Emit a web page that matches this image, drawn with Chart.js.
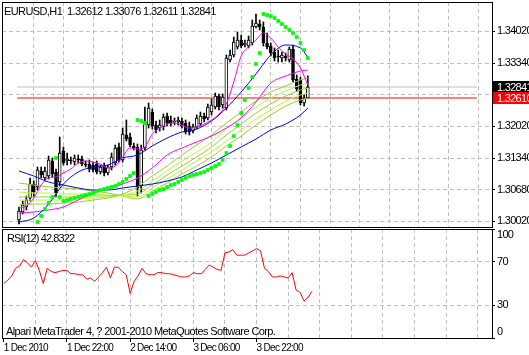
<!DOCTYPE html>
<html><head><meta charset="utf-8">
<script src="https://cdn.jsdelivr.net/npm/chart.js@4.4.1/dist/chart.umd.min.js"></script>
<style>
html,body{margin:0;padding:0;background:#fff;}
#wrap{position:relative;width:529px;height:355px;overflow:hidden;background:#fff;}
canvas{position:absolute;left:0;}
#c1{top:0;} #c2{top:228px;}
.t{position:absolute;font-family:"Liberation Sans",Arial,sans-serif;font-size:11px;color:#000;white-space:pre;line-height:11px;letter-spacing:-0.6px;}
</style></head><body>
<div id="wrap">
<canvas id="c1" width="529" height="228"></canvas>
<canvas id="c2" width="529" height="127"></canvas>
<div class="t" id="title" style="left:4px;top:6px"></div>
<div class="t" id="rsiTitle" style="left:7px;top:233px;letter-spacing:-0.9px"></div>
<div class="t" id="copy" style="left:6px;top:326px">Alpari MetaTrader 4, ? 2001-2010 MetaQuotes Software Corp.</div>
</div>
<script>
const FONT = '"Liberation Sans",Arial,sans-serif';
const LSP = '-0.7px';
const symbol = 'EURUSD', period = 'H1', rsiPeriod = 12;
const timeLabels = ['1 Dec 2010','1 Dec 22:00','2 Dec 14:00','3 Dec 06:00','3 Dec 22:00'];
const timeLabelBars = [0,16,32,48,64];
const gridBars = [0,8,16,24,32,40,48,56,64,72,80,88,96,104,112,120];
const priceTicks = [1.34020,1.33340,1.32680,1.32020,1.31340,1.30680,1.30020];
const rsiTicks = [0,30,70,100];
const rsiLevels = [30,70];
const bidPrice = 1.32841;
const hLinePrice = 1.32610;
const priceMin = 1.29894, priceMax = 1.34631;
const xMin = -0.45, xMax = 123.6;

const openP = [1.30041,1.30210,1.30315,1.30505,1.30799,1.30736,1.31073,1.30926,1.30968,1.31284,
1.31052,1.30841,1.31494,1.31284,1.31305,1.31262,1.31326,1.31326,1.31220,1.31220,
1.31199,1.31220,1.31052,1.31178,1.31031,1.31157,1.31241,1.31578,1.31305,1.31831,
1.31789,1.31599,1.31578,1.30757,1.31557,1.32041,1.32315,1.32041,1.31978,1.31999,
1.32231,1.32147,1.32105,1.32105,1.32126,1.32083,1.32020,1.31915,1.31999,1.32062,
1.32231,1.32189,1.32315,1.32420,1.32652,1.32462,1.32399,1.33410,1.33515,1.33684,
1.33831,1.33726,1.33705,1.33768,1.34105,1.34168,1.34105,1.33768,1.33705,1.33578,
1.33494,1.33452,1.33494,1.33410,1.33641,1.33010,1.32989,1.32505,1.32612];
const highP = [1.30315,1.30441,1.30547,1.30926,1.30862,1.31157,1.31157,1.31157,1.31389,1.31347,
1.31115,1.31789,1.31578,1.31452,1.31368,1.31410,1.31410,1.31389,1.31284,1.31305,
1.31262,1.31284,1.31199,1.31241,1.31199,1.31452,1.31620,1.31662,1.31978,1.32147,
1.31873,1.31662,1.31641,1.31620,1.32420,1.32505,1.32378,1.32126,1.32147,1.32273,
1.32294,1.32231,1.32189,1.32210,1.32189,1.32147,1.32105,1.32062,1.32252,1.32315,
1.32294,1.32484,1.32589,1.32715,1.32694,1.32694,1.33515,1.33620,1.33894,1.33999,
1.33936,1.33831,1.33915,1.34252,1.34378,1.34252,1.34210,1.33978,1.33768,1.33663,
1.33620,1.33578,1.33557,1.33684,1.33726,1.33094,1.33052,1.32673,1.33076];
const lowP = [1.29957,1.30168,1.30252,1.30441,1.30526,1.30673,1.30926,1.30862,1.30905,1.30947,
1.30526,1.30757,1.31199,1.31199,1.31220,1.31199,1.31241,1.31178,1.31157,1.31052,
1.31052,1.31010,1.31010,1.30968,1.30989,1.31094,1.31199,1.31262,1.31262,1.31704,
1.31578,1.31515,1.30547,1.30610,1.31515,1.31978,1.31957,1.31873,1.31915,1.31936,
1.32020,1.32020,1.32041,1.32041,1.31978,1.31852,1.31831,1.31873,1.31957,1.32020,
1.32105,1.32147,1.32252,1.32378,1.32357,1.32399,1.32357,1.33368,1.33473,1.33641,
1.33663,1.33684,1.33663,1.33726,1.34084,1.34041,1.33705,1.33641,1.33494,1.33389,
1.33368,1.33368,1.33389,1.33368,1.32947,1.32757,1.32462,1.32441,1.32611];
const closeP = [1.30231,1.30357,1.30462,1.30799,1.30631,1.31094,1.30989,1.31073,1.31305,1.31010,
1.30589,1.31452,1.31241,1.31326,1.31284,1.31347,1.31305,1.31220,1.31199,1.31115,
1.31094,1.31052,1.31157,1.31031,1.31157,1.31368,1.31557,1.31305,1.31852,1.31746,
1.31620,1.31557,1.30715,1.31515,1.32105,1.32399,1.32020,1.31936,1.32041,1.32210,
1.32083,1.32083,1.32126,1.32147,1.32020,1.31894,1.31894,1.31999,1.32189,1.32231,
1.32168,1.32420,1.32462,1.32652,1.32420,1.32631,1.33452,1.33515,1.33789,1.33831,
1.33705,1.33768,1.33831,1.34126,1.34189,1.34105,1.33768,1.33684,1.33557,1.33452,
1.33473,1.33515,1.33452,1.33641,1.32989,1.32799,1.32505,1.32610,1.32841];

const fastSampleBars = [0,2,4,6,8,10,12,14,16,18,20,22,24,26,28,30,32,34,36,38,40,42,44,46,48,50,52,54,56,58,60,62,64,66,68,70,72,74,76,78];
const maFast = [1.30294,1.30336,1.30505,1.30778,1.30926,1.30947,1.31031,1.31115,1.31241,1.31284,
1.31262,1.31220,1.31136,1.31178,1.31368,1.31557,1.31536,1.31578,1.31852,1.31978,
1.32062,1.32083,1.32041,1.31978,1.31999,1.32062,1.32147,1.32273,1.32484,1.32947,
1.33494,1.33684,1.33831,1.33978,1.33873,1.33684,1.33536,1.33431,1.33241,1.32883];

const maSampleBars = [0,4,8,12,16,20,24,28,32,36,40,44,48,52,56,60,64,68,72,76,78];
const maBlueFast = [1.29999,1.30083,1.30378,1.30799,1.31052,1.31157,1.31199,1.31347,1.31410,1.31599,
1.31767,1.31894,1.31957,1.32126,1.32399,1.32736,1.33115,1.33515,1.33726,1.33663,1.33473];
const maBlueSlow = [1.31073,1.30968,1.30841,1.30778,1.30715,1.30673,1.30673,1.30715,1.30757,1.30799,
1.30862,1.30947,1.31094,1.31241,1.31410,1.31578,1.31746,1.31936,1.32062,1.32252,1.32399];
const maMagentaSlow = [1.30188,1.30210,1.30252,1.30315,1.30462,1.30610,1.30715,1.30799,1.30926,1.31136,
1.31410,1.31557,1.31683,1.31809,1.31978,1.32189,1.32525,1.32925,1.33073,1.33178,1.33199];
const maGreen1 = [1.30357,1.30378,1.30378,1.30399,1.30420,1.30462,1.30505,1.30589,1.30736,1.30968,
1.31178,1.31410,1.31620,1.31831,1.32083,1.32315,1.32546,1.32736,1.32862,1.32989,1.33031];
const maGreen2 = [1.30462,1.30462,1.30462,1.30462,1.30483,1.30505,1.30526,1.30567,1.30652,1.30862,
1.31073,1.31284,1.31473,1.31683,1.31957,1.32189,1.32420,1.32610,1.32757,1.32883,1.32925];
const maGreen3 = [1.30526,1.30526,1.30526,1.30526,1.30526,1.30547,1.30547,1.30567,1.30589,1.30778,
1.30989,1.31178,1.31368,1.31578,1.31831,1.32062,1.32294,1.32484,1.32652,1.32778,1.32820];
const maGreen4 = [1.30631,1.30610,1.30610,1.30589,1.30589,1.30589,1.30567,1.30547,1.30526,1.30715,
1.30905,1.31094,1.31284,1.31473,1.31704,1.31936,1.32168,1.32357,1.32546,1.32673,1.32715];
const maGreen5 = [1.30820,1.30778,1.30736,1.30715,1.30694,1.30652,1.30610,1.30547,1.30483,1.30652,
1.30820,1.31010,1.31178,1.31368,1.31599,1.31809,1.32041,1.32252,1.32441,1.32567,1.32610];

const sar = [null,null,null,null,null,1.29999,1.30125,1.30273,1.30399,1.30526,
1.31347,1.30526,1.30441,1.30462,1.30483,1.30505,1.30526,1.30547,1.30567,1.30589,
1.30610,1.30652,1.30673,1.30694,1.30715,1.30736,1.30757,1.30799,1.30841,1.30905,
1.30968,1.31031,1.32147,1.32126,1.32083,1.30547,1.30589,1.30631,1.30673,1.30694,
1.30736,1.30778,1.30799,1.30841,1.30883,1.30926,1.30968,1.30989,1.31010,1.31031,
1.31052,1.31094,1.31136,1.31178,1.31220,1.31305,1.31452,1.31599,1.31809,1.32041,
1.32294,1.32567,1.32820,1.33052,1.33325,1.33557,1.34378,1.34357,1.34336,1.34294,
1.34231,1.34168,1.34105,1.34041,1.33978,1.33894,1.33768,1.33620,1.33452];

const rsi = [50,53,57,64,66,72,69,65,71,62,
50,64,61,60,61,62,62,59,59,58,
58,54,55,52,56,60,65,55,65,65,
61,58,41,52,57,64,59,58,58,60,
60,59,59,58,57,56,56,57,60,59,
59,63,67,65,63,62,78,79,81,76,
76,76,78,80,82,80,64,61,56,56,
57,56,55,60,44,42,34,37,42.8322];

const n = closeP.length - 1;
const barIdx = closeP.map((_, i) => i);
const pts = (xs, ys) => xs.map((x, k) => ({x: x, y: ys[k]}));

document.getElementById('title').textContent =
  symbol + ',' + period + '  ' + openP[n].toFixed(5) + ' ' + highP[n].toFixed(5) + ' ' + lowP[n].toFixed(5) + ' ' + closeP[n].toFixed(5);
document.getElementById('rsiTitle').textContent = 'RSI(' + rsiPeriod + ') ' + rsi[n].toFixed(4);

Chart.defaults.color = '#000';
Chart.defaults.font.family = FONT;
Chart.defaults.font.size = 11;

const noPad = s => { s.paddingTop = 0; s.paddingBottom = 0; s.paddingLeft = 0; s.paddingRight = 0; };

const spacingPlugin = {
  id: 'spacing',
  beforeInit(chart) { chart.ctx.letterSpacing = LSP; },
  beforeUpdate(chart) { chart.ctx.letterSpacing = LSP; },
  beforeLayout(chart) { chart.ctx.letterSpacing = LSP; },
  beforeDraw(chart) { chart.ctx.letterSpacing = LSP; }
};
const framePlugin = {
  id: 'frame',
  afterDatasetsDraw(chart) {
    const {ctx, chartArea: a} = chart;
    ctx.save();
    ctx.strokeStyle = '#000'; ctx.lineWidth = 1; ctx.setLineDash([]);
    ctx.strokeRect(a.left + 0.5, a.top + 0.5, a.right - a.left, a.bottom - a.top);
    ctx.restore();
  }
};
const boxPlugin = {
  id: 'boxes',
  afterDraw(chart) {
    const {ctx, chartArea: a} = chart;
    const ys = chart.scales.y;
    const items = [{v: bidPrice, bg: '#000000'}, {v: hLinePrice, bg: '#ff0000'}];
    ctx.save();
    ctx.font = '11px ' + FONT;
    ctx.letterSpacing = LSP;
    ctx.textBaseline = 'middle';
    items.forEach(it => {
      const y = Math.round(ys.getPixelForValue(it.v));
      ctx.fillStyle = it.bg;
      ctx.fillRect(a.right + 1, y - 6, chart.width - a.right - 1, 12);
      ctx.fillStyle = '#fff';
      ctx.fillText(it.v.toFixed(5), a.right + 5, y + 0.5);
    });
    ctx.restore();
  }
};

const lineDs = (data, color, order) => ({type: 'line', data: data, borderColor: color, borderWidth: 1,
  pointRadius: 0, fill: false, cubicInterpolationMode: 'monotone', order: order});

new Chart(document.getElementById('c1'), {
  data: {datasets: [
    {type: 'line', data: [{x: xMin, y: bidPrice}, {x: xMax, y: bidPrice}], borderColor: '#c0c0c0', borderWidth: 1, pointRadius: 0, order: 30},
    {type: 'line', data: [{x: xMin, y: hLinePrice}, {x: xMax, y: hLinePrice}], borderColor: '#ff0000', borderWidth: 1, pointRadius: 0, order: 29},
    {type: 'bar', data: barIdx.map(i => ({x: i, y: [lowP[i], highP[i]]})), backgroundColor: '#000', barThickness: 1, grouped: false, order: 28},
    {type: 'bar', data: barIdx.map(i => ({x: i, y: [openP[i], closeP[i]]})),
      backgroundColor: barIdx.map(i => closeP[i] >= openP[i] ? '#ffffff' : '#000000'),
      borderColor: '#000', borderWidth: 1, borderSkipped: false, barThickness: 3, grouped: false, minBarLength: 1, order: 27},
    lineDs(pts(maSampleBars, maGreen5), '#9acd32', 20),
    lineDs(pts(maSampleBars, maGreen4), '#adff2f', 19),
    lineDs(pts(maSampleBars, maGreen3), '#9acd32', 18),
    lineDs(pts(maSampleBars, maGreen2), '#adff2f', 17),
    lineDs(pts(maSampleBars, maGreen1), '#9acd32', 16),
    lineDs(pts(maSampleBars, maMagentaSlow), '#ff00ff', 15),
    lineDs(pts(maSampleBars, maBlueSlow), '#0000ff', 14),
    lineDs(pts(maSampleBars, maBlueFast), '#0000ff', 13),
    lineDs(pts(fastSampleBars, maFast), '#ff00ff', 12),
    {type: 'line', data: barIdx.map(i => ({x: i, y: sar[i]})), showLine: false, pointStyle: 'rect',
      pointRadius: 2.6, pointBackgroundColor: '#00ff00', pointBorderWidth: 0, order: 1}
  ]},
  options: {
    responsive: false, animation: false, events: [],
    layout: {autoPadding: false, padding: {left: 2, top: 2, right: 0, bottom: 1}},
    plugins: {legend: {display: false}, tooltip: {enabled: false}},
    scales: {
      x: {type: 'linear', min: xMin, max: xMax, position: 'bottom',
        afterBuildTicks: s => { s.ticks = gridBars.map(v => ({value: v})); },
        ticks: {display: false},
        grid: {color: c => (c.tick && c.tick.value === 0) ? 'rgba(0,0,0,0)' : '#c0c0c0', drawTicks: false},
        border: {display: true, color: '#000', dash: [4, 3]},
        afterFit: s => { s.height = 0; noPad(s); }},
      y: {type: 'linear', position: 'right', min: priceMin, max: priceMax,
        afterBuildTicks: s => { s.ticks = priceTicks.map(v => ({value: v})); },
        ticks: {color: '#000', padding: 2, autoSkip: false, font: {size: 11}, callback: v => Number(v).toFixed(5)},
        grid: {color: '#c0c0c0', tickColor: '#000', tickLength: 3, drawTicks: true},
        border: {display: true, color: '#000', dash: [4, 3]},
        afterFit: s => { s.width = 37; noPad(s); }}
    }
  },
  plugins: [spacingPlugin, framePlugin, boxPlugin]
});

new Chart(document.getElementById('c2'), {
  data: {datasets: [
    {type: 'line', data: barIdx.map(i => ({x: i, y: rsi[i]})), borderColor: '#ff0000', borderWidth: 1, pointRadius: 0, fill: false, tension: 0}
  ]},
  options: {
    responsive: false, animation: false, events: [],
    layout: {autoPadding: false, padding: {left: 2, top: 1, right: 0, bottom: 0}},
    plugins: {legend: {display: false}, tooltip: {enabled: false}},
    scales: {
      x: {type: 'linear', min: xMin, max: xMax, position: 'bottom',
        afterBuildTicks: s => { s.ticks = gridBars.map(v => ({value: v})); },
        ticks: {autoSkip: false, maxRotation: 0, minRotation: 0, align: 'start', padding: 0, font: {size: 10},
          callback: v => { const k = timeLabelBars.indexOf(v); return k >= 0 ? timeLabels[k] : ''; }},
        grid: {color: c => (c.tick && c.tick.value === 0) ? 'rgba(0,0,0,0)' : '#c0c0c0',
          tickColor: c => (c.tick && timeLabelBars.indexOf(c.tick.value) >= 0) ? '#000' : 'rgba(0,0,0,0)',
          tickLength: 4, drawTicks: true},
        border: {display: true, color: '#000', dash: [4, 3]},
        afterFit: s => { s.height = 17; noPad(s); }},
      y: {type: 'linear', position: 'right', min: 0, max: 100,
        afterBuildTicks: s => { s.ticks = rsiTicks.map(v => ({value: v})); },
        ticks: {color: '#000', padding: 2, autoSkip: false, font: {size: 11, lineHeight: 1.1},
          callback: v => v === 100 ? ['', '100'] : (v === 0 ? ['0', ''] : String(v))},
        grid: {color: c => (c.tick && rsiLevels.indexOf(c.tick.value) >= 0) ? '#c0c0c0' : 'rgba(0,0,0,0)',
          tickColor: '#000', tickLength: 3, drawTicks: true},
        border: {display: true, color: '#000', dash: [4, 3]},
        afterFit: s => { s.width = 37; noPad(s); }}
    }
  },
  plugins: [spacingPlugin, framePlugin]
});
</script>
</body></html>
